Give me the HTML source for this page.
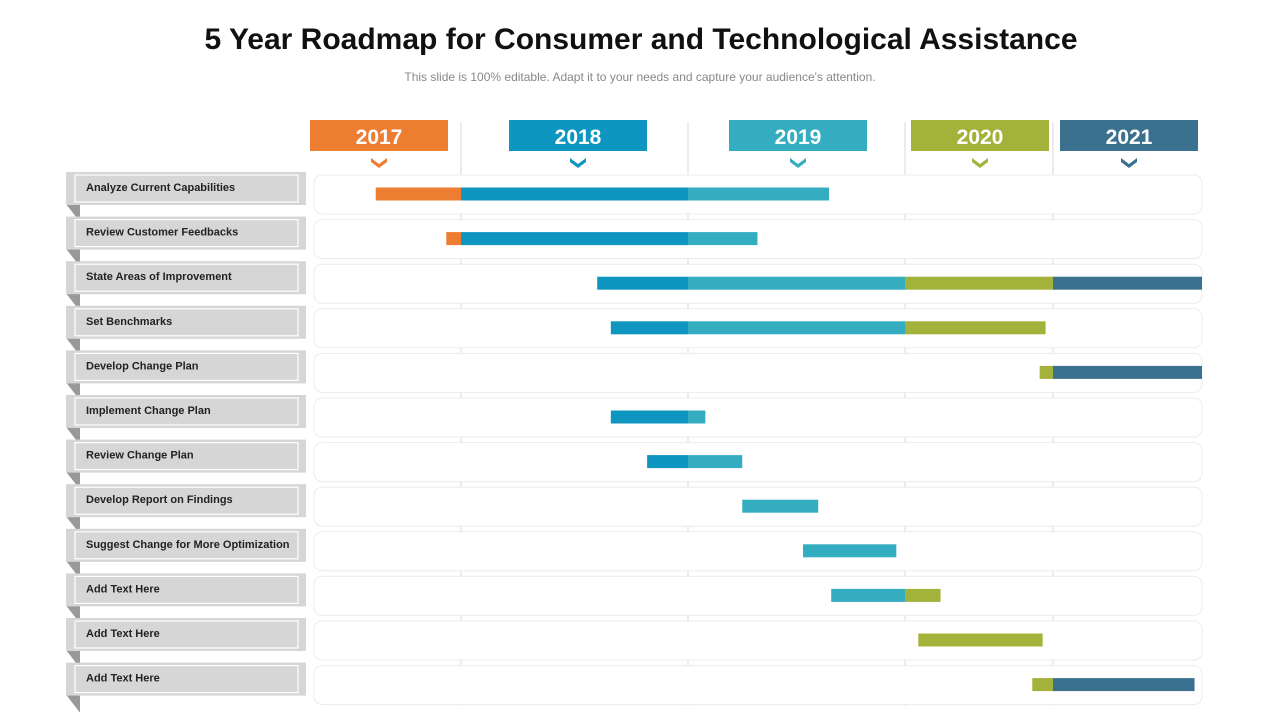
<!DOCTYPE html>
<html><head><meta charset="utf-8">
<style>
body{margin:0;width:1280px;height:720px;background:#fff;font-family:"Liberation Sans",Arial,sans-serif;overflow:hidden}
</style></head>
<body>
<svg id="chart" width="1280" height="720" xmlns="http://www.w3.org/2000/svg">
<text x="641" y="49" text-anchor="middle" font-size="30" font-weight="bold" fill="#111" font-family="Liberation Sans, sans-serif">5 Year Roadmap for Consumer and Technological Assistance</text>
<text x="640" y="81" text-anchor="middle" font-size="12" fill="#888" font-family="Liberation Sans, sans-serif">This slide is 100% editable. Adapt it to your needs and capture your audience's attention.</text>
<g id="grid"></g><g id="rows"></g><g id="heads"></g><g id="bars"></g>
</svg>
<script>
const years = ["2017","2018","2019","2020","2021"];
const yearColors = ["#ed7d31","#0e96c0","#33adbf","#a2b23a","#3b718e"];
const tasks = ["Analyze Current Capabilities","Review Customer Feedbacks","State Areas of Improvement","Set Benchmarks","Develop Change Plan","Implement Change Plan","Review Change Plan","Develop Report on Findings","Suggest Change for More Optimization","Add Text Here","Add Text Here","Add Text Here"];
const startValues = [2017.42,2017.90,2018.60,2018.66,2020.91,2018.66,2018.82,2019.25,2019.53,2019.66,2020.09,2020.86];
const endValues = [2019.65,2019.32,2022.0,2020.95,2022.0,2019.08,2019.25,2019.60,2019.96,2020.24,2020.93,2021.95];

const NS="http://www.w3.org/2000/svg";
const bounds=[314,461,688,905,1053,1202];
const headX=[310,509,729,911,1060];
function xScale(v){let i=Math.floor(v-2017);if(i<0)i=0;if(i>4)i=4;return bounds[i]+(v-2017-i)*(bounds[i+1]-bounds[i]);}
function yScale(i){return 194+i*44.6;}
function mk(tag,attrs,parent){const e=document.createElementNS(NS,tag);for(const k in attrs)e.setAttribute(k,attrs[k]);parent.appendChild(e);return e;}
const grid=document.getElementById('grid'),rows=document.getElementById('rows'),heads=document.getElementById('heads'),bars=document.getElementById('bars');
for(let i=1;i<5;i++){const l=mk('line',{x1:bounds[i],x2:bounds[i],y1:122,y2:706,stroke:'#d9d9d9','stroke-width':1},grid);

}
years.forEach((y,i)=>{
 const g=mk('g',{},heads);
 
 
 mk('rect',{x:headX[i],y:120,width:138,height:31,fill:yearColors[i]},g);
 const t=mk('text',{x:headX[i]+69,y:144,'text-anchor':'middle','font-size':21,'font-weight':'bold',fill:'#fff'},g);t.textContent=y;
 const cx=headX[i]+69;
 mk('path',{d:`M${cx-8} 158 L${cx} 164 L${cx+8} 158 L${cx+8} 162 L${cx} 168 L${cx-8} 162 Z`,fill:yearColors[i]},g);
});
tasks.forEach((name,i)=>{
 const cy=yScale(i);
 const g=mk('g',{},rows);
 
 
 mk('rect',{x:314,y:cy-19,width:888,height:39,rx:8,fill:'#fff',stroke:'#ececec'},g);
 mk('path',{d:`M66 ${cy+10} L80 ${cy+10} L80 ${cy+28} Z`,fill:'#999'},g);
 mk('rect',{x:66,y:cy-22,width:240,height:33,fill:'#d6d6d6'},g);
 mk('rect',{x:75,y:cy-19,width:223,height:27,fill:'none',stroke:'#fff','stroke-width':1.2},g);
 const t=mk('text',{x:86,y:cy-3,'font-size':11,'font-weight':'bold',fill:'#222'},g);t.textContent=name;
 
 
});
tasks.forEach((name,i)=>{
 const s=startValues[i],e=endValues[i],cy=yScale(i);
 for(let k=0;k<5;k++){
  const a=Math.max(s,2017+k),b=Math.min(e,2018+k);
  if(b<=a)continue;
  const r=mk('rect',{x:xScale(a),y:cy-6.5,width:xScale(b)-xScale(a),height:13,fill:yearColors[k]},bars);
  
  
 }
});
</script>
</body></html>
